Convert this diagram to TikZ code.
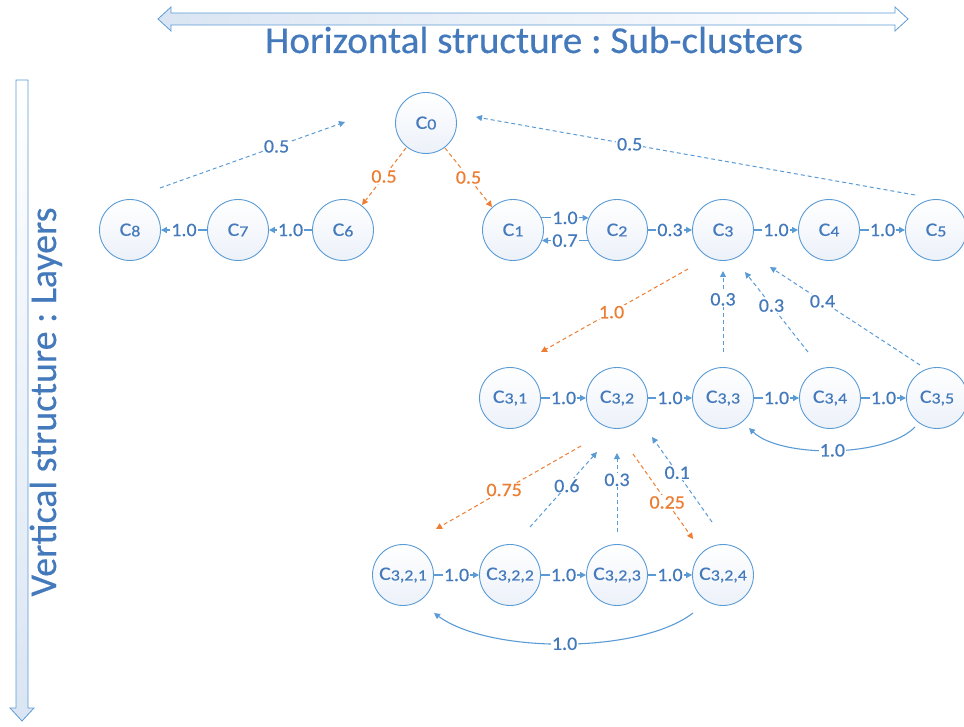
\documentclass[tikz,border=0pt]{standalone}
\usepackage{fontspec}
\setmainfont{Carlito}[FakeStretch=1.15,FakeBold=0.4]
\newfontfamily\titlefont{Carlito}[FakeStretch=1.03,FakeBold=0.4]
\newfontfamily\vertfont{Carlito}[FakeBold=0.4]
\newfontfamily\labfont{Carlito}[FakeStretch=1.05,FakeBold=0.5]
\usetikzlibrary{arrows.meta,calc}
\definecolor{lblue}{RGB}{91,155,213}
\definecolor{tblue}{RGB}{68,122,188}
\definecolor{ora}{RGB}{237,125,49}
\definecolor{nfill}{RGB}{236,241,249}
\definecolor{afill}{RGB}{218,229,243}
\newcommand{\cl}[1]{C\raisebox{-0.6pt}{\fontsize{15.5}{15.5}\selectfont #1}}
\frenchspacing
\begin{document}
\begin{tikzpicture}[x=1pt,y=-1pt,
 cnode/.style={circle, draw=lblue, line width=0.9pt, minimum size=61pt, inner sep=0pt, top color=white, bottom color=nfill, text=tblue, font=\fontsize{19}{19}\selectfont},
 tipa/.style={-{Triangle[length=6pt,width=6pt]}},
 hedge/.style={draw=lblue, line width=1.1pt, tipa},
 dedge/.style={draw=lblue, line width=1pt, dash pattern=on 4pt off 3pt, tipa},
 oedge/.style={dedge, draw=ora},
 elab/.style={fill=white, inner sep=1pt, text=tblue, font=\labfont\fontsize{19}{19}\selectfont},
 olab/.style={elab, text=ora},
]
\useasboundingbox (0,0) rectangle (964,727);

% big arrows
\path[draw=lblue, line width=0.8pt, left color=afill, right color=white]
  (158,19) -- (171,7) -- (171,13) -- (895,13) -- (895,7) -- (908,19) -- (895,31) -- (895,25) -- (171,25) -- (171,31) -- cycle;
\path[draw=lblue, line width=0.8pt, top color=white, bottom color=afill]
  (16,80) -- (28,80) -- (28,708) -- (34,708) -- (22,721) -- (10,708) -- (16,708) -- cycle;

\node[anchor=base, text=tblue, font=\titlefont\fontsize{38}{38}\selectfont] (title) at (534,53) {Horizontal structure : Sub-clusters};
\node[rotate=90, anchor=base, text=tblue, font=\vertfont\fontsize{38}{38}\selectfont] (vtitle) at (56,402) {Vertical structure : Layers};

% nodes
\node[cnode] (C0) at (426,123) {\cl{0}};
\node[cnode] (C8) at (130,230) {\cl{8}};
\node[cnode] (C7) at (238,230) {\cl{7}};
\node[cnode] (C6) at (343,230) {\cl{6}};
\node[cnode] (C1) at (513,230) {\cl{1}};
\node[cnode] (C2) at (617,230) {\cl{2}};
\node[cnode] (C3) at (723,230) {\cl{3}};
\node[cnode] (C4) at (829,230) {\cl{4}};
\node[cnode] (C5) at (936,230) {\cl{5}};

\node[cnode] (C31) at (510,398) {\cl{3,1}};
\node[cnode] (C32) at (617,398) {\cl{3,2}};
\node[cnode] (C33) at (723,398) {\cl{3,3}};
\node[cnode] (C34) at (830,398) {\cl{3,4}};
\node[cnode] (C35) at (937,398) {\cl{3,5}};

\node[cnode] (C321) at (403,575) {\cl{3,2,1}};
\node[cnode] (C322) at (510,575) {\cl{3,2,2}};
\node[cnode] (C323) at (617,575) {\cl{3,2,3}};
\node[cnode] (C324) at (723,575) {\cl{3,2,4}};

% horizontal edges
\draw[hedge] (C7) -- node[elab]{1.0} (C8);
\draw[hedge] (C6) -- node[elab]{1.0} (C7);
\draw[hedge] (C1.23) -- node[elab]{1.0} (C2.157);
\draw[hedge] (C2.200) -- node[elab]{0.7} (C1.-20);
\draw[hedge] (C2) -- node[elab]{0.3} (C3);
\draw[hedge] (C3) -- node[elab]{1.0} (C4);
\draw[hedge] (C4) -- node[elab]{1.0} (C5);

\draw[hedge] (C31) -- node[elab]{1.0} (C32);
\draw[hedge] (C32) -- node[elab]{1.0} (C33);
\draw[hedge] (C33) -- node[elab]{1.0} (C34);
\draw[hedge] (C34) -- node[elab]{1.0} (C35);

\draw[hedge] (C321) -- node[elab]{1.0} (C322);
\draw[hedge] (C322) -- node[elab]{1.0} (C323);
\draw[hedge] (C323) -- node[elab]{1.0} (C324);

% curved back edges
\draw[hedge] ($(C35)+(-22,29)$) .. controls ($(C35)+(-52,60)$) and ($(C33)+(57,60)$) .. node[elab, pos=0.5]{1.0} ($(C33)+(26,30)$);
\draw[hedge] ($(C324)+(-30,38)$) .. controls ($(C324)+(-83,79)$) and ($(C321)+(87,79)$) .. node[elab, pos=0.5]{1.0} ($(C321)+(31,38)$);

% dashed edges, layer 0
\draw[dedge] ($(C8)+(30,-42)$) -- node[elab, pos=0.63]{0.5} ($(C0)+(-81,-1)$);
\draw[oedge] ($(C0)+(-20,25)$) -- node[olab, pos=0.5]{0.5} ($(C6)+(19,-25)$);
\draw[oedge] ($(C0)+(19,25)$) -- node[olab, pos=0.5]{0.5} ($(C1)+(-21,-23)$);
\draw[dedge] ($(C5)+(-21,-35)$) -- node[elab, pos=0.65]{0.5} ($(C0)+(50,-6)$);

% layer 1
\draw[oedge] ($(C3)+(-35,39)$) -- node[olab, pos=0.52]{1.0} ($(C31)+(31,-46)$);
\draw[dedge] ($(C33)+(0,-46)$) -- node[elab, pos=0.65]{0.3} ($(C3)+(0,41)$);
\draw[dedge] ($(C34)+(-22,-46)$) -- node[elab, pos=0.58]{0.3} ($(C3)+(22,42)$);
\draw[dedge] ($(C35)+(-17,-33)$) -- node[elab, pos=0.65]{0.4} ($(C3)+(47,37)$);

% layer 2
\draw[oedge] ($(C32)+(-36,48)$) -- node[olab, pos=0.53]{0.75} ($(C321)+(33,-46)$);
\draw[dedge] ($(C322)+(20,-48)$) -- node[elab, pos=0.55]{0.6} ($(C32)+(-20,54)$);
\draw[dedge] ($(C323)+(0,-43)$) -- node[elab, pos=0.66]{0.3} ($(C32)+(0,55)$);
\draw[oedge] ($(C32)+(16,56)$) -- node[olab, pos=0.57]{0.25} ($(C324)+(-30,-36)$);
\draw[dedge] ($(C324)+(-11,-53)$) -- node[elab, pos=0.58]{0.1} ($(C32)+(35,39)$);
\end{tikzpicture}
\end{document}
